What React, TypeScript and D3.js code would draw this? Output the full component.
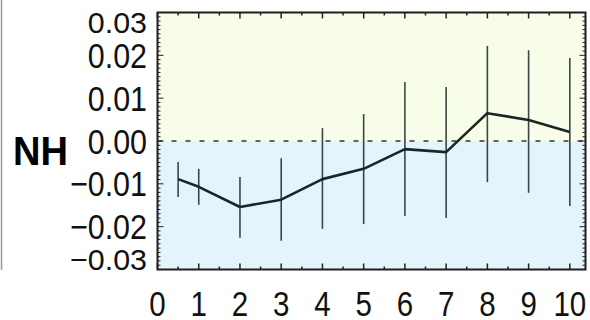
import React from "react";
import * as d3 from "d3";

// Lead times and NH anomaly statistics
const leads = [0.5, 1, 2, 3, 4, 5, 6, 7, 8, 9, 10];
const meanNH = [-0.0089, -0.0107, -0.0154, -0.0137, -0.0089, -0.0065, -0.0019, -0.0026, 0.0065, 0.0049, 0.0021];
const upperNH = [-0.0049, -0.0065, -0.0084, -0.004, 0.003, 0.0063, 0.0138, 0.0126, 0.0222, 0.0212, 0.0194];
const lowerNH = [-0.0131, -0.0149, -0.0226, -0.0233, -0.0205, -0.0194, -0.0175, -0.018, -0.0096, -0.0121, -0.0152];

const xTicks = [0, 1, 2, 3, 4, 5, 6, 7, 8, 9, 10];
const yTicks = [-0.03, -0.02, -0.01, 0, 0.01, 0.02, 0.03];
const yLabels = ["\u22120.03", "\u22120.02", "\u22120.01", "0.00", "0.01", "0.02", "0.03"];
const panelLabel = "NH";

const W = 590;
const H = 320;
const frame = { left: 157.5, right: 585.5, top: 12.5, bottom: 269.5 };

export default function App() {
  const x = d3.scaleLinear().domain([0, 10.38]).range([frame.left, frame.right]);
  const y = d3.scaleLinear().domain([-0.03, 0.03]).range([frame.bottom, frame.top]);

  const line = d3
    .line<number>()
    .x((_, i) => x(leads[i]))
    .y((d) => y(d));

  const minorY = d3.range(-30, 31).map((k) => k / 1000);
  const minorX = d3.range(0.5, 10.4, 1);
  const font = "'Liberation Sans', Arial, Helvetica, sans-serif";

  return (
    <svg
      width={W}
      height={H}
      style={{ position: "absolute", left: 0, top: 0, background: "#fff" }}
    >
      {/* positive / negative shading */}
      <rect x={frame.left} y={frame.top} width={frame.right - frame.left} height={y(0) - frame.top} fill="#f8fde9" />
      <rect x={frame.left} y={y(0)} width={frame.right - frame.left} height={frame.bottom - y(0)} fill="#e4f4fc" />

      {/* zero reference */}
      <line x1={frame.left} x2={frame.right} y1={y(0)} y2={y(0)} stroke="#333" strokeWidth={1.5} strokeDasharray="5,9" />

      {/* spread bars */}
      {leads.map((l, i) => (
        <line
          key={"e" + i}
          x1={x(l)}
          x2={x(l)}
          y1={y(upperNH[i])}
          y2={y(lowerNH[i])}
          stroke="#3a4646"
          strokeWidth={1.6}
        />
      ))}

      {/* ensemble mean */}
      <path d={line(meanNH) || ""} fill="none" stroke="#1a2626" strokeWidth={2.6} strokeLinejoin="round" />

      {/* y-axis ticks, left and right, inward */}
      {minorY.map((v, i) => {
        const major = Math.abs(Math.round(v * 1000)) % 10 === 0;
        const len = major ? 6 : 3;
        return (
          <g key={"yt" + i}>
            <line x1={frame.left} x2={frame.left + len} y1={y(v)} y2={y(v)} stroke="#222" strokeWidth={1} />
            <line x1={frame.right} x2={frame.right - len} y1={y(v)} y2={y(v)} stroke="#222" strokeWidth={1} />
          </g>
        );
      })}

      {/* x-axis ticks, bottom and top, inward */}
      {xTicks.map((t) => (
        <g key={"xt" + t}>
          <line x1={x(t)} x2={x(t)} y1={frame.bottom} y2={frame.bottom - 6} stroke="#222" strokeWidth={1.5} />
          <line x1={x(t)} x2={x(t)} y1={frame.top} y2={frame.top + 6} stroke="#222" strokeWidth={1.5} />
        </g>
      ))}
      {minorX.map((t) => (
        <g key={"xm" + t}>
          <line x1={x(t)} x2={x(t)} y1={frame.bottom} y2={frame.bottom - 3} stroke="#222" strokeWidth={1.5} />
          <line x1={x(t)} x2={x(t)} y1={frame.top} y2={frame.top + 3} stroke="#222" strokeWidth={1.5} />
        </g>
      ))}

      {/* frame */}
      <rect
        x={frame.left}
        y={frame.top}
        width={frame.right - frame.left}
        height={frame.bottom - frame.top}
        fill="none"
        stroke="#1e1e1e"
        strokeWidth={2}
      />

      {/* y tick labels; end labels are compressed to sit inside the frame */}
      {yTicks.map((v, i) => {
        const end = Math.abs(v) > 0.025;
        const cy = end ? (v > 0 ? frame.top + 10 : frame.bottom - 10.5) : y(v);
        const sy = end ? 0.86 : 1;
        const fs = 35;
        return (
          <text
            key={"yl" + i}
            transform={`translate(147,${cy}) scale(0.87,${sy})`}
            y={fs * 0.358}
            textAnchor="end"
            fontFamily={font}
            fontSize={fs}
            fill="#111"
          >
            {yLabels[i]}
          </text>
        );
      })}

      {/* x tick labels */}
      {xTicks.map((t) => (
        <text
          key={"xl" + t}
          transform={`translate(${x(t)},316) scale(0.82,1)`}
          textAnchor="middle"
          fontFamily={font}
          fontSize={36}
          fill="#111"
        >
          {t}
        </text>
      ))}

      {/* panel label */}
      <text
        x={13}
        y={165}
        fontFamily={font}
        fontWeight="bold"
        fontSize={41}
        textLength={55}
        lengthAdjust="spacingAndGlyphs"
        fill="#000"
      >
        {panelLabel}
      </text>

      {/* left panel edge */}
      <line x1={1.5} x2={1.5} y1={0} y2={270} stroke="#9a9a9a" strokeWidth={1.5} />
    </svg>
  );
}
